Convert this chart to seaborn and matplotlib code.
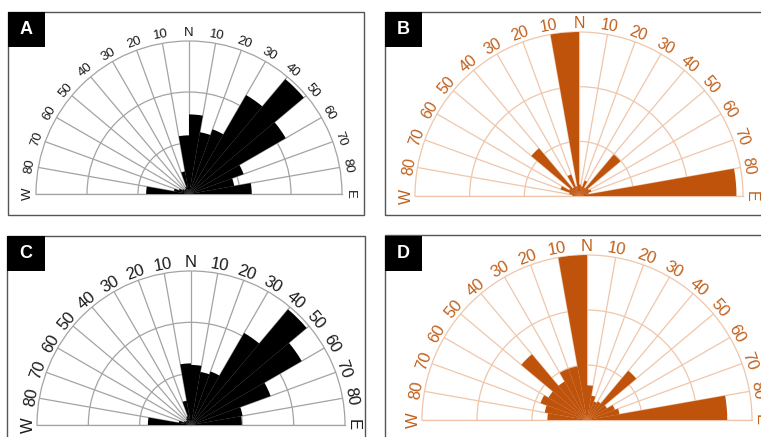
import numpy as np
import matplotlib
matplotlib.use("Agg")
import matplotlib.pyplot as plt
import seaborn as sns
from matplotlib.patches import Rectangle

# ---- data ----
sector_start_deg = list(range(-90, 90, 10))          # 10-degree sectors, W -> N -> E
tick_deg = list(range(-90, 91, 10))
tick_labels = ["W", "80", "70", "60", "50", "40", "30", "20", "10", "N",
               "10", "20", "30", "40", "50", "60", "70", "80", "E"]

vals_a = [8.4, 3.0, 2.1, 1.5, 1.2, 1.2, 1.5, 4.5, 11.5,
          15.6, 12.3, 13.5, 22.4, 29.4, 21.9, 11.4, 9.0, 12.3]
vals_b = [1.2, 1.8, 3.6, 2.1, 11.4, 1.8, 4.2, 1.8, 30.0,
          2.1, 1.8, 3.0, 1.8, 9.9, 2.1, 2.4, 1.8, 28.8]
vals_c = [8.4, 2.4, 1.5, 1.2, 1.2, 1.5, 1.8, 4.8, 12.0,
          11.7, 10.5, 11.1, 20.7, 29.4, 24.9, 16.5, 10.2, 9.9]
vals_d = [7.2, 7.8, 9.0, 8.1, 15.6, 8.1, 9.9, 9.9, 30.0,
          6.3, 4.5, 3.6, 3.9, 11.7, 4.2, 5.4, 6.0, 25.5]
panel_letters = ["A", "B", "C", "D"]

# ---- style ----
sns.set_theme(style="white")
plt.rcParams['font.family'] = ['Liberation Sans', 'DejaVu Sans']

W, H = 761.0, 437.0
fig = plt.figure(figsize=(W / 100, H / 100), dpi=100)

black = "#000000"
orange = "#bf530b"
panels = [
    dict(vals=vals_a, center=(189, 194), R=153, bar=black, grid="#a3a3a3", text="#1a1a1a", fs=9.5,
         frame=(8, 12, 364, 215), box=(8, 12, 45, 47)),
    dict(vals=vals_b, center=(579, 196), R=164, bar=orange, grid="#efc6aa", text="#c0601c", fs=11.5,
         frame=(385, 12, 775, 215), box=(385, 12, 422, 47)),
    dict(vals=vals_c, center=(191, 425), R=154, bar=black, grid="#a3a3a3", text="#1a1a1a", fs=12,
         frame=(7, 236, 365, 450), box=(7, 236, 45, 271)),
    dict(vals=vals_d, center=(587, 420), R=165, bar=orange, grid="#efc6aa", text="#c0601c", fs=12,
         frame=(385, 235, 775, 450), box=(385, 236, 422, 271)),
]

for letter, p in zip(panel_letters, panels):
    cx, cy = p['center']
    R = p['R']
    # the half-disc sits in a square box whose lower quarter is empty
    rect = [(cx - R) / W, 1 - (cy + 0.5 * R) / H, 2 * R / W, 2 * R / H]
    ax = fig.add_axes(rect, projection='polar')
    ax.set_theta_zero_location('N')
    ax.set_theta_direction(-1)
    ax.set_thetamin(-90)
    ax.set_thetamax(90)
    ax.set_ylim(0, 30)
    ax.set_axisbelow(True)
    ax.bar(np.deg2rad(sector_start_deg), p['vals'], width=np.deg2rad(10), align='edge',
           color=p['bar'], edgecolor='none', zorder=3)
    ax.set_xticks(np.deg2rad(tick_deg))
    ax.set_xticklabels(tick_labels)
    ax.set_yticks([10, 20])
    ax.set_yticklabels([])
    ax.grid(True, color=p['grid'], lw=0.9)
    ax.tick_params(axis='x', labelrotation='auto', pad=-7, labelsize=p['fs'],
                   labelcolor=p['text'])
    ax.tick_params(axis='y', length=0)
    for s in ax.spines.values():
        s.set_color(p['grid'])
        s.set_linewidth(0.9)

    # panel frame
    x0, y0, x1, y1 = p['frame']
    fig.add_artist(Rectangle((x0 / W, 1 - y1 / H), (x1 - x0) / W, (y1 - y0) / H,
                             transform=fig.transFigure, fill=False, ec="#555555", lw=1.0))
    # letter box
    bx0, by0, bx1, by1 = p['box']
    fig.add_artist(Rectangle((bx0 / W, 1 - by1 / H), (bx1 - bx0) / W, (by1 - by0) / H,
                             transform=fig.transFigure, fc="#000000", ec="none"))
    fig.text((bx0 + bx1) / 2 / W, 1 - (by0 + by1) / 2 / H, letter, color="white",
             fontsize=13, fontweight="bold", ha="center", va="center")

fig.savefig("out.png", dpi=100)
